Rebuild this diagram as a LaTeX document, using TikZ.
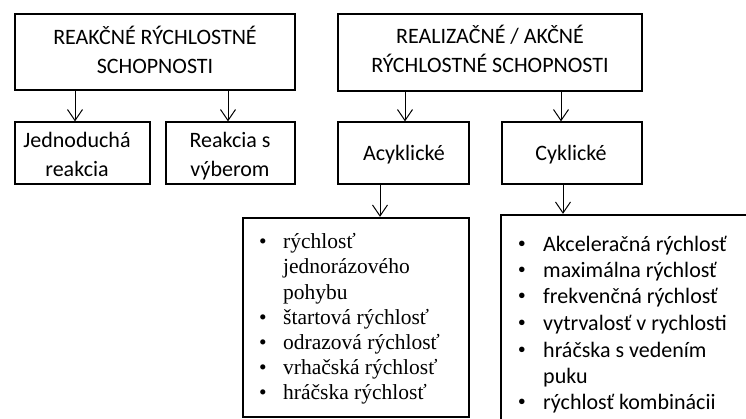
\documentclass[tikz,border=0pt]{standalone}
\usepackage{fontspec}
\setmainfont{Carlito}
\newfontfamily\serifl{Liberation Serif}
\usetikzlibrary{arrows.meta}
\begin{document}
\begin{tikzpicture}[x=1pt,y=-1pt,
  tbox/.style={draw=black,line width=1.2pt,inner sep=0pt},
  ttext/.style={inner sep=0pt,align=center,font={\fontsize{22}{29}\selectfont}},
  lbox/.style={draw=black,line width=2.3pt,inner sep=0pt},
  arr/.style={line width=1pt,-{Straight Barb[length=11pt,width=15pt,line width=1pt]}},
  aitem/.style={anchor=base west,inner sep=0pt,font={\serifl\fontsize{21.5}{25}\selectfont}},
  abul/.style={anchor=base,inner sep=0pt,font={\serifl\fontsize{21.5}{25}\selectfont}},
  citem/.style={anchor=base west,inner sep=0pt,font={\fontsize{22}{26}\selectfont}},
  cbul/.style={anchor=base,inner sep=0pt,font={\serifl\fontsize{23}{26}\selectfont}}]
\useasboundingbox (0,0) rectangle (746,419);
\fill[white] (0,0) rectangle (746,419);

% boxes
\node[tbox,minimum width=280,minimum height=76] (r) at (155,52) {};
\node[tbox,minimum width=135,minimum height=62] (j) at (82.5,153) {};
\node[tbox,minimum width=129,minimum height=62] (v) at (230.5,153) {};
\node[tbox,minimum width=304,minimum height=77] (z) at (490,52.5) {};
\node[tbox,minimum width=131,minimum height=62] (a) at (403.5,153) {};
\node[tbox,minimum width=140,minimum height=62] (c) at (572,153) {};

% box texts
\node[ttext] (rt) at (155,53.7) {\strut REAKČNÉ RÝCHLOSTNÉ\\\strut SCHOPNOSTI};
\node[ttext] (jt) at (77,156.5) {\strut Jednoduchá\\\strut reakcia};
\node[ttext] (vt) at (230,156.5) {\strut Reakcia s\\\strut výberom};
\node[ttext] (zt) at (490,52.7) {\strut REALIZAČNÉ / AKČNÉ\\\strut RÝCHLOSTNÉ SCHOPNOSTI};
\node[ttext] (at) at (404,155) {\strut Acyklické};
\node[ttext] (ct) at (571,155) {\strut Cyklické};

% list boxes
\node[lbox,minimum width=226,minimum height=199] (al) at (356,317.5) {};
\begin{scope}
\clip (0,0) rectangle (746,419);
\node[lbox,minimum width=300,minimum height=240] (cl) at (651,335) {};
\end{scope}

% connectors
\coordinate (x1) at (75,0);
\coordinate (x2) at (228,0);
\coordinate (x3) at (405,0);
\coordinate (x4) at (561,0);
\coordinate (x5) at (380,0);
\coordinate (x6) at (563,0);
\draw[arr] (x1 |- r.south) -- (x1 |- j.north);
\draw[arr] (x2 |- r.south) -- (x2 |- v.north);
\draw[arr] (x3 |- z.south) -- (x3 |- a.north);
\draw[arr] (x4 |- z.south) -- (x4 |- c.north);
\draw[arr] (x5 |- a.south) -- (x5 |- al.north);
\draw[arr] (x6 |- c.south) -- (x6 |- cl.north);

% acyclic list
\node[abul] (ab1) at (263,249) {•};
\node[aitem] (a1) at (283,249) {rýchlosť};
\node[aitem] (a2) at (283,274) {jednorázového};
\node[aitem] (a3) at (283,299) {pohybu};
\node[abul] (ab4) at (263,324) {•};
\node[aitem] (a4) at (283,324) {štartová rýchlosť};
\node[abul] (ab5) at (263,349) {•};
\node[aitem] (a5) at (283,349) {odrazová rýchlosť};
\node[abul] (ab6) at (263,374) {•};
\node[aitem] (a6) at (283,374) {vrhačská rýchlosť};
\node[abul] (ab7) at (263,399) {•};
\node[aitem] (a7) at (283,399) {hráčska rýchlosť};

% cyclic list
\node[cbul] (cb1) at (522,252) {•};
\node[citem] (c1) at (543,252) {Akceleračná rýchlosť};
\node[cbul] (cb2) at (522,278) {•};
\node[citem] (c2) at (543,278) {maximálna rýchlosť};
\node[cbul] (cb3) at (522,304) {•};
\node[citem] (c3) at (543,304) {frekvenčná rýchlosť};
\node[cbul] (cb4) at (522,330) {•};
\node[citem] (c4) at (543,330) {vytrvalosť v rychlosti};
\node[cbul] (cb5) at (522,357) {•};
\node[citem] (c5) at (543,357) {hráčska s vedením};
\node[citem] (c6) at (543,383) {puku};
\node[cbul] (cb7) at (522,409) {•};
\node[citem] (c7) at (543,409) {rýchlosť kombinácii};
\end{tikzpicture}
\end{document}
